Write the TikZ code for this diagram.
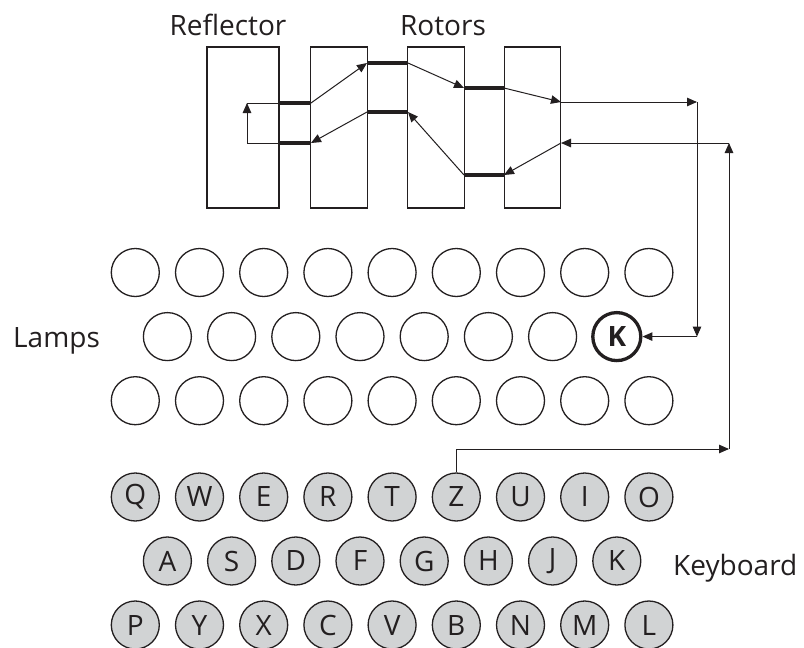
\documentclass[tikz,border=0pt]{standalone}
\usepackage{fontspec}
\setmainfont{Open Sans}
\usetikzlibrary{arrows.meta}
\definecolor{ink}{HTML}{231F20}
\definecolor{keygray}{HTML}{D1D3D4}
\begin{document}
\begin{tikzpicture}[x=1pt,y=-1pt,
  box/.style={draw=ink,line width=1.1pt,rectangle,inner sep=0pt,minimum height=161pt},
  lamp/.style={circle,draw=ink,line width=1.3pt,minimum size=48pt,inner sep=0pt,text=ink,font=\fontsize{28}{30}\selectfont},
  keyc/.style={lamp,fill=keygray},
  lbl/.style={font=\fontsize{28}{30}\selectfont,text=ink,inner sep=0pt},
  wire/.style={draw=ink,line width=3.3pt},
  sig/.style={draw=ink,line width=1pt,-{Triangle[length=10pt,width=8.5pt]}},
  plain/.style={draw=ink,line width=1pt}]
\fill[white] (0,0) rectangle (804,648);
\useasboundingbox (0,0) rectangle (804,648);

% labels
\node[lbl,anchor=base] (lblrefl) at (228,35) {Reflector};
\node[lbl,anchor=base] (lblrot) at (443,35) {Rotors};
\node[lbl,anchor=base west] (lbllamps) at (13,347) {Lamps};
\node[lbl,anchor=base west] (lblkeys) at (673,575) {Keyboard};

% reflector and rotors
\node[box,minimum width=72pt] (refl) at (243,127.5) {};
\node[box,minimum width=56.5pt] (rot1) at (339,127.5) {};
\node[box,minimum width=56.5pt] (rot2) at (436,127.5) {};
\node[box,minimum width=56.5pt] (rot3) at (532.5,127.5) {};

% wiring points
\coordinate (a1) at (247,103);
\coordinate (a2) at (279,103);
\coordinate (a3) at (311,103);
\coordinate (b1) at (247,143);
\coordinate (b2) at (279,143);
\coordinate (b3) at (311,143);
\coordinate (c1) at (367,63);
\coordinate (c2) at (408,63);
\coordinate (d1) at (367,112);
\coordinate (d2) at (408,112);
\coordinate (e1) at (464,88);
\coordinate (e2) at (504,88);
\coordinate (f1) at (464,175);
\coordinate (f2) at (504,175);
\coordinate (g) at (561,102);
\coordinate (h) at (561,143);
\coordinate (p1) at (697,102);
\coordinate (p2) at (697,336.6);
\coordinate (q1) at (729,143);
\coordinate (q2) at (729,449);

% lamps
\foreach \i in {0,...,8} \node[lamp] (lampa\i) at (135.3+\i*64.2,272.5) {};
\foreach \i in {0,...,6} \node[lamp] (lampb\i) at (167.4+\i*64.2,336.6) {};
\node[lamp,line width=3.3pt,font=\fontsize{28}{30}\selectfont\bfseries] (lampK) at (616.8,336.6) {K};
\foreach \i in {0,...,8} \node[lamp] (lampc\i) at (135.3+\i*64.2,400.7) {};

% keyboard
\foreach \L [count=\i from 0] in {Q,W,E,R,T,Z,U,I,O}
  \node[keyc] (k\L) at (135.3+\i*64.2,497) {\L};
\foreach \L [count=\i from 0] in {A,S,D,F,G,H,J,K}
  \node[keyc] (k\L) at (167.4+\i*64.2,561) {\L};
\foreach \L [count=\i from 0] in {P,Y,X,C,V,B,N,M,L}
  \node[keyc] (k\L) at (135.3+\i*64.2,625) {\L};

% thick wires
\draw[wire] (a2) -- (a3);
\draw[wire] (b2) -- (b3);
\draw[wire] (c1) -- (c2);
\draw[wire] (d1) -- (d2);
\draw[wire] (e1) -- (e2);
\draw[wire] (f1) -- (f2);

% signal path
\draw[sig] (kZ.north) |- (q2);
\draw[sig] (q2) -- (q1);
\draw[sig] (q1) -- (h);
\draw[sig] (h) -- (f2);
\draw[sig] (f1) -- (d2);
\draw[sig] (d1) -- (b3);
\draw[plain] (b2) -- (b1);
\draw[sig] (b1) -- (a1);
\draw[plain] (a1) -- (a2);
\draw[sig] (a3) -- (c1);
\draw[sig] (c2) -- (e1);
\draw[sig] (e2) -- (g);
\draw[sig] (g) -- (p1);
\draw[sig] (p1) -- (p2);
\draw[sig] (p2) -- (lampK.east);
\end{tikzpicture}
\end{document}
